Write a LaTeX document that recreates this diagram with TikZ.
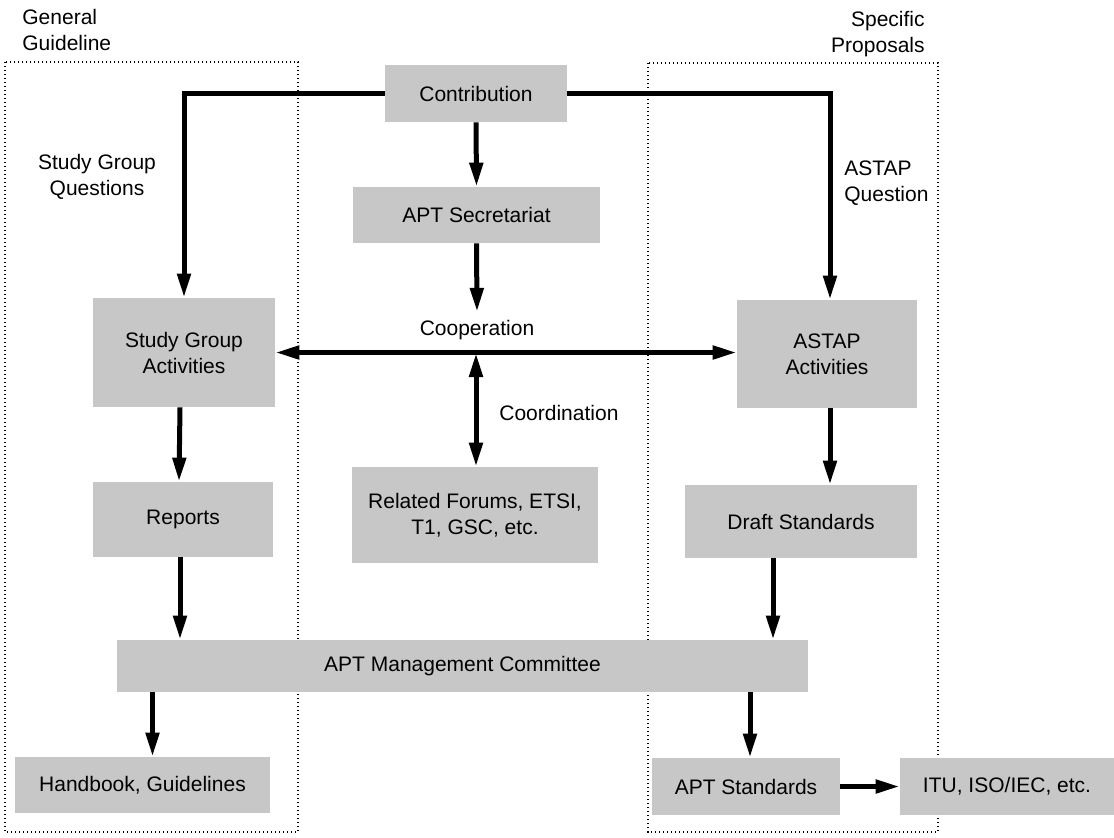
\documentclass[tikz,border=0pt]{standalone}
\usepackage{fontspec}
\setmainfont{Liberation Sans}
\usetikzlibrary{arrows.meta,calc}
\begin{document}
\begin{tikzpicture}[x=0.5pt,y=-0.5pt,
  font=\fontsize{10.5}{13}\selectfont,
  box/.style={fill=black!22, inner sep=0pt, align=center},
  lbl/.style={inner sep=2pt},
  arr/.style={line width=2.5pt, -{Triangle[width=6.5pt,length=12pt]}},
  darr/.style={line width=2.5pt, {Triangle[width=6.5pt,length=12pt]}-{Triangle[width=6.5pt,length=12pt]}},
  grp/.style={line width=0.7pt, dash pattern=on 0.7pt off 1.3pt}]
\useasboundingbox (0,0) rectangle (1114,837);
% group frames
\draw[grp] (5,62) rectangle (298,832);
\draw[grp] (648,63) rectangle (938,832);
% group labels
\node[lbl, anchor=west, align=left] (gg) at (18,30) {General\\Guideline};
\node[lbl, anchor=east, align=right] (sp) at (929,34) {Specific\\Proposals};
% boxes
\node[box, minimum width=91pt, minimum height=28.5pt] (contrib) at (476,93.5) {Contribution};
\node[box, minimum width=123.5pt, minimum height=28pt] (secr) at (476.5,215) {APT Secretariat};
\node[box, minimum width=91pt, minimum height=54.5pt] (sga) at (184,352.5) {Study Group\\Activities};
\node[box, minimum width=90pt, minimum height=54pt] (astap) at (827,354) {ASTAP\\Activities};
\node[box, minimum width=90pt, minimum height=37.5pt] (reports) at (183,519.5) {Reports};
\node[box, minimum width=123pt, minimum height=48pt] (forums) at (475,515) {Related Forums, ETSI,\\T1, GSC, etc.};
\node[box, minimum width=116pt, minimum height=36.5pt] (draft) at (801,521.5) {Draft Standards};
\node[box, minimum width=345.5pt, minimum height=26pt] (mgmt) at (462.5,666) {APT Management Committee};
\node[box, minimum width=127.5pt, minimum height=28pt] (hb) at (142.5,785) {Handbook, Guidelines};
\node[box, minimum width=94pt, minimum height=28.5pt] (aptstd) at (746,786.5) {APT Standards};
\node[box, minimum width=107pt, minimum height=28.5pt] (itu) at (1007,786.5) {ITU, ISO/IEC, etc.};
% labels
\node[lbl, align=center] (sgq) at (97,177) {Study Group\\Questions};
\node[lbl, anchor=west, align=left] (aq) at (840,183) {ASTAP\\Question};
\node[lbl, inner sep=4pt] (coop) at (477,330) {Cooperation};
\node[lbl, anchor=west] (coord) at (495,413) {Coordination};
\coordinate (cp) at (476,353);
% connectors
\draw[arr] (contrib.west) -| (sga.north);
\draw[arr] (contrib.east) -| ([xshift=1.5pt]astap.north);
\draw[arr] (contrib.south) -- (secr.north);
\draw[arr] (secr.south) -- (coop.north);
\draw[darr] (sga.east) -- (sga.east -| astap.west);
\draw[darr] (cp) -- (cp |- forums.north);
\draw[arr] ([xshift=-2pt]sga.south) -- ([xshift=-2pt]reports.north);
\draw[arr] ([xshift=-1.5pt]reports.south) -- ([xshift=-1.5pt]reports.south |- mgmt.north);
\draw[arr] ([xshift=1.5pt]astap.south) -- ([xshift=1.5pt]astap.south |- draft.north);
\draw[arr] ([xshift=-14pt]draft.south) -- ([xshift=-14pt]draft.south |- mgmt.north);
\draw[arr] ([xshift=5pt]hb.north |- mgmt.south) -- ([xshift=5pt]hb.north);
\draw[arr] ([xshift=2pt]aptstd.north |- mgmt.south) -- ([xshift=2pt]aptstd.north);
\draw[arr] (aptstd.east) -- (itu.west);
\end{tikzpicture}
\end{document}
